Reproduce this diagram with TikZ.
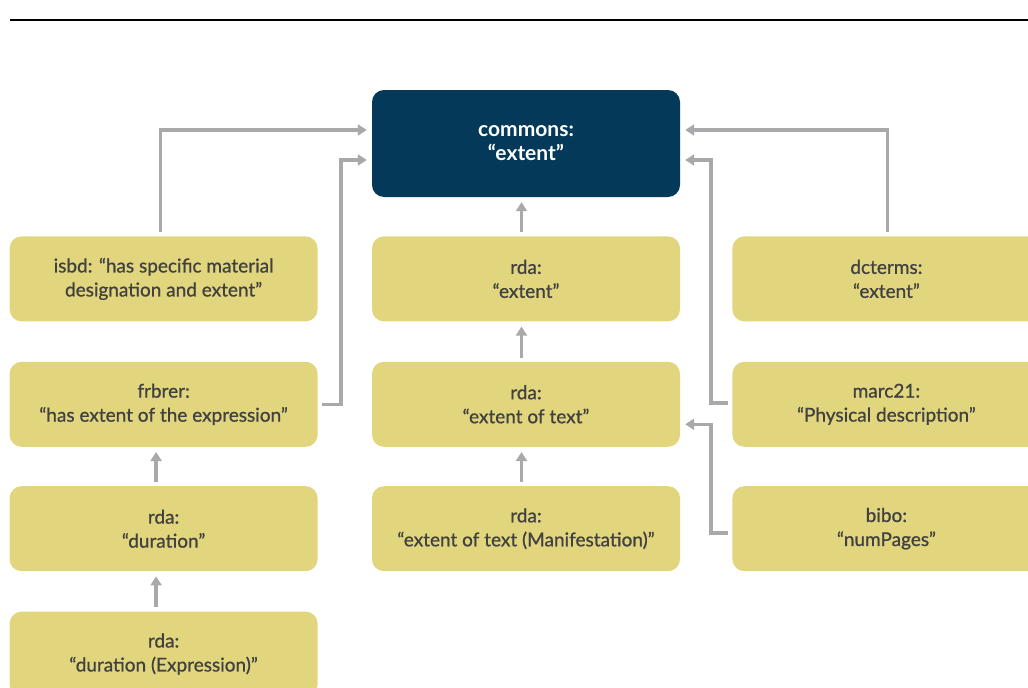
\documentclass[tikz,border=0pt]{standalone}
\usepackage{fontspec}
\setmainfont{Lato}
\newfontfamily\termfont[FakeBold=0.8]{Lato}
\usepackage{tikz}
\usetikzlibrary{arrows.meta,positioning}
\definecolor{termfill}{HTML}{E1D57D}
\definecolor{commonsfill}{HTML}{05395A}
\definecolor{pilgray}{HTML}{A9A9AC}
\definecolor{termtext}{HTML}{414141}
\tikzset{
    %Define standard arrow tip
    >={Triangle[width=11pt,length=9pt]},
    %Define style for boxes
    termrect/.style={
           rectangle,
           rounded corners=12pt,
           fill=termfill,
           minimum width=308pt,
           minimum height=85pt,
           inner sep=0pt,
           font=\termfont\fontsize{19}{24}\selectfont,
           text=termtext,
           align=center},
    commonsrect/.style={
           termrect,
           fill=commonsfill,
           minimum height=107pt,
           font=\fontsize{21}{24}\selectfont\bfseries,
           text=white},
    % Define arrow style
    pil/.style={
           ->,
           draw=pilgray,
           line width=3.5pt,
           shorten <=4pt,
           shorten >=5pt}
}
\begin{document}
\begin{tikzpicture}[x=1pt,y=-1pt]
\useasboundingbox (0,0) rectangle (1028,688);
\clip (0,0) rectangle (1028,688);
\draw[line width=1.2pt] (10,20) -- (1028,20);
\node[commonsrect] (commons) at (526,143.5) {commons:\\“extent”};
\node[termrect, below=39pt of commons] (rdaextent) {rda:\\“extent”};
\node[termrect, below=40pt of rdaextent] (rdatext) {rda:\\“extent of text”};
\node[termrect, below=39pt of rdatext] (rdamanif) {rda:\\“extent of text (Manifestation)”};
\node[termrect, left=54pt of rdaextent] (isbd) {isbd: “has specific material\\designation and extent”};
\node[termrect, below=40pt of isbd] (frbrer) {frbrer:\\“has extent of the expression”};
\node[termrect, below=39pt of frbrer] (duration) {rda:\\“duration”};
\node[termrect, below=40pt of duration] (durexpr) {rda:\\“duration (Expression)”};
\node[termrect, right=52pt of rdaextent] (dcterms) {dcterms:\\“extent”};
\node[termrect, right=52pt of rdatext] (marc21) {marc21:\\“Physical description”};
\node[termrect, right=52pt of rdamanif] (bibo) {bibo:\\“numPages”};
\draw[pil] ([xshift=-4.5pt]rdaextent.north) -- ([xshift=-4.5pt]commons.south);
\draw[pil] ([xshift=-4.5pt]rdatext.north) -- ([xshift=-4.5pt]rdaextent.south);
\draw[pil] ([xshift=-4.5pt]rdamanif.north) -- ([xshift=-4.5pt]rdatext.south);
\draw[pil] ([xshift=-7.5pt]duration.north) -- ([xshift=-7.5pt]frbrer.south);
\draw[pil] ([xshift=-7.5pt]durexpr.north) -- ([xshift=-7.5pt]duration.south);
\draw[pil] ([xshift=-3pt]isbd.north) |- ([yshift=13.5pt]commons.west);
\draw[pil] (frbrer.east) -| ([xshift=-31pt,yshift=-16.5pt]commons.west) -- ([yshift=-16.5pt]commons.west);
\draw[pil] ([xshift=1pt]dcterms.north) |- ([yshift=13.5pt]commons.east);
\draw[pil] ([yshift=1.5pt]marc21.west) -| ([xshift=31pt,yshift=-16.5pt]commons.east) -- ([yshift=-16.5pt]commons.east);
\draw[pil] ([yshift=-4.5pt]bibo.west) -| ([xshift=31pt,yshift=-20pt]rdatext.east) -- ([yshift=-20pt]rdatext.east);
\end{tikzpicture}
\end{document}
